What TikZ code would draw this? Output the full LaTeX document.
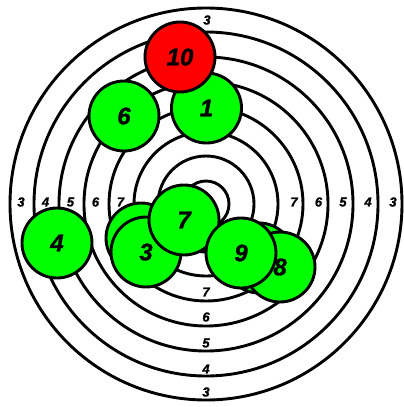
\documentclass[tikz,border=0pt]{standalone}
\usepackage{fontspec}
\setmainfont{Liberation Sans}
\newfontfamily\heavyfont[UprightFont={* Bold Italic},FakeBold=1.2]{Liberation Sans}
\definecolor{shotgreen}{RGB}{0,255,0}
\definecolor{shotred}{RGB}{255,0,0}
\begin{document}
\begin{tikzpicture}[x=1pt,y=-1pt,
  ring/.style={draw=black,line width=2.9pt},
  shot/.style={circle,draw=black,line width=2.9pt,fill=shotgreen,minimum size=70pt,inner sep=0pt,
    font=\fontsize{24}{24}\heavyfont},
  ringlabel/.style={font=\fontsize{13}{13}\heavyfont,inner sep=0pt}]
\useasboundingbox[fill=white] (0,0) rectangle (404,407);
\coordinate (c) at (206,204);
\foreach \r in {196,172,147,122,97,72,48,23} \draw[ring] (c) circle[radius=\r];
% ring labels
\node[ringlabel] (t3) at (207,20) {3};
\node[ringlabel] (l3) at (21,202) {3};
\node[ringlabel] (l4) at (45.5,202) {4};
\node[ringlabel] (l5) at (70.5,202) {5};
\node[ringlabel] (l6) at (95.5,202) {6};
\node[ringlabel] (l7) at (120.5,202) {7};
\node[ringlabel] (r7) at (294,202) {7};
\node[ringlabel] (r6) at (318.5,202) {6};
\node[ringlabel] (r5) at (343,202) {5};
\node[ringlabel] (r4) at (368,202) {4};
\node[ringlabel] (r3) at (393,202) {3};
\node[ringlabel] (b7) at (206,292) {7};
\node[ringlabel] (b6) at (206,317) {6};
\node[ringlabel] (b5) at (206,343) {5};
\node[ringlabel] (b4) at (206,369) {4};
\node[ringlabel] (b3) at (206,392) {3};
% shots
\node[shot] (s1) at (206.5,108) {1};
\node[shot] (s2) at (141,238) {};
\node[shot] (s3) at (146,252) {3};
\node[shot] (s4) at (57,243) {4};
\node[shot] (s5) at (259,258) {};
\node[shot] (s6) at (124,116) {6};
\node[shot] (s7) at (184,220) {7};
\node[shot] (s8) at (280,267) {8};
\node[shot] (s9) at (241,253) {9};
\node[shot,fill=shotred] (s10) at (180,57) {10};
\end{tikzpicture}
\end{document}
